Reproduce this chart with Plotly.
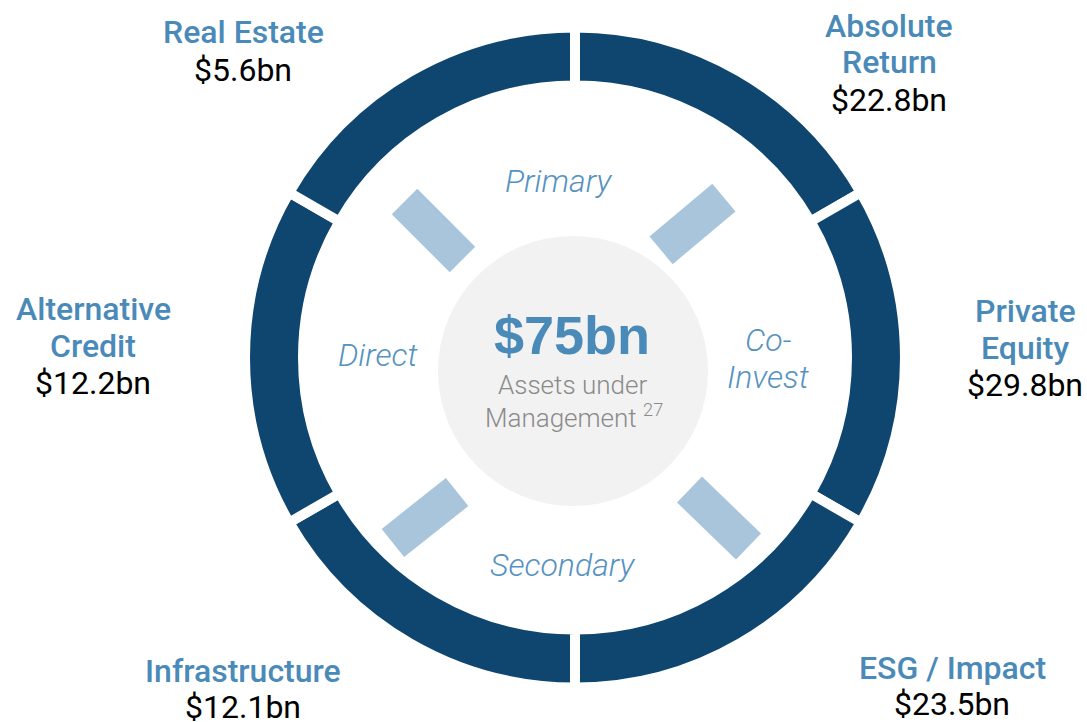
import math
import plotly.graph_objects as go

# ---------------- data ----------------
categories = ["Absolute Return", "Private Equity", "ESG / Impact",
              "Infrastructure", "Alternative Credit", "Real Estate"]
aum_bn = [22.8, 29.8, 23.5, 12.1, 12.2, 5.6]
segment_share = [1, 1, 1, 1, 1, 1]          # ring drawn as six equal segments
strategies = ["Primary", "Co-Invest", "Secondary", "Direct"]
total_aum_bn = 75
center_caption = ["Assets under", "Management"]
footnote = "27"

# ---------------- layout constants (pixels) ----------------
W, H = 1087, 722
RING_C = (575, 357.5)
RING_R = 330          # geometric outer radius (white stroke trims 5px)
RING_HOLE = 272 / 330
DISK_C = (573, 371)
DISK_R = 135

NAVY = "#0e4670"
BLUE = "#4a8ab9"
ITAL = "#5592c0"
RECT = "#a8c5db"
GREY_TXT = "#8a8a8a"

label_pos = {
    "Absolute Return": (889, [26, 62], 100),
    "Private Equity": (1025, [311, 348], 385),
    "ESG / Impact": (952, [668], 704),
    "Infrastructure": (243, [671], 707),
    "Alternative Credit": (93, [309, 346], 383),
    "Real Estate": (243, [32], 70),
}
label_lines = {"Absolute Return": ["Absolute", "Return"],
               "Private Equity": ["Private", "Equity"],
               "Alternative Credit": ["Alternative", "Credit"]}

strategy_pos = {"Primary": (558, [181]), "Co-Invest": (768, [340, 377]),
                "Secondary": (563, [565]), "Direct": (378, [355])}
strategy_lines = {"Co-Invest": ["Co-", "Invest"]}

# decorative bars: centre x, centre y, long-axis angle (deg, screen coords)
bars = [(433.5, 230.5, 45), (692.5, 224, -40), (425, 517.5, -38.5), (719, 518, 44)]
BAR_L, BAR_W = 82, 36


def dom(c, r):
    cx, cy = c
    return dict(x=[(cx - r) / W, (cx + r) / W],
                y=[(H - cy - r) / H, (H - cy + r) / H])


fig = go.Figure()

# main ring
fig.add_trace(go.Pie(
    labels=categories, values=segment_share, sort=False, direction="clockwise",
    rotation=0, hole=RING_HOLE, domain=dom(RING_C, RING_R),
    marker=dict(colors=[NAVY] * len(categories), line=dict(color="white", width=10)),
    textinfo="none", hoverinfo="label", showlegend=False,
    customdata=aum_bn,
))

# grey centre disk
fig.add_trace(go.Pie(
    labels=["AUM"], values=[total_aum_bn], hole=0, domain=dom(DISK_C, DISK_R),
    marker=dict(colors=["#f2f2f2"], line=dict(width=0)),
    textinfo="none", hoverinfo="skip", showlegend=False, sort=False,
))

# decorative bars on a pixel axis
for cx, cy, ang in bars:
    a = math.radians(ang)
    ux, uy = math.cos(a), math.sin(a)
    vx, vy = -uy, ux
    xs, ys = [], []
    for s1, s2 in [(1, 1), (1, -1), (-1, -1), (-1, 1), (1, 1)]:
        xs.append(cx + s1 * BAR_L / 2 * ux + s2 * BAR_W / 2 * vx)
        ys.append(cy + s1 * BAR_L / 2 * uy + s2 * BAR_W / 2 * vy)
    fig.add_trace(go.Scatter(x=xs, y=ys, mode="lines", fill="toself",
                             fillcolor=RECT, line=dict(width=0, color=RECT),
                             hoverinfo="skip", showlegend=False))

ann = []
FAM = "Roboto, Liberation Sans, Arial"
NAME_FONT = dict(family=FAM, size=32, color=BLUE, weight=500)
VAL_FONT = dict(family=FAM, size=32, color="black", weight=400)


def txt(x, y, t, font):
    ann.append(dict(x=x, y=y, text=t, font=font, showarrow=False, xref="x", yref="y",
                    xanchor="center", yanchor="middle", align="center"))


for cat, val in zip(categories, aum_bn):
    x, ys, yv = label_pos[cat]
    for line, y in zip(label_lines.get(cat, [cat]), ys):
        txt(x, y, line, NAME_FONT)
    txt(x, yv, f"${val}bn", VAL_FONT)

ITAL_FONT = dict(family=FAM, size=32, color=ITAL, style="italic", weight=300)
for s in strategies:
    x, ys = strategy_pos[s]
    for line, y in zip(strategy_lines.get(s, [s]), ys):
        txt(x, y, line, ITAL_FONT)

txt(572, 335, f"${total_aum_bn}bn",
    dict(family="Liberation Sans, Arial", size=54, color=BLUE, weight="bold"))
CAP_FONT = dict(family=FAM, size=26, color=GREY_TXT, weight=300)
txt(572, 385, center_caption[0], CAP_FONT)
txt(574, 416, f"{center_caption[1]} <sup>{footnote}</sup>", CAP_FONT)

fig.update_layout(
    width=W, height=H, margin=dict(l=0, r=0, t=0, b=0),
    paper_bgcolor="white", plot_bgcolor="rgba(0,0,0,0)",
    xaxis=dict(range=[0, W], visible=False, domain=[0, 1], fixedrange=True),
    yaxis=dict(range=[H, 0], visible=False, domain=[0, 1], fixedrange=True),
    annotations=ann, showlegend=False,
)

fig.write_html("out.html", config={"displayModeBar": False},
               post_script="document.body.style.margin='0';")
